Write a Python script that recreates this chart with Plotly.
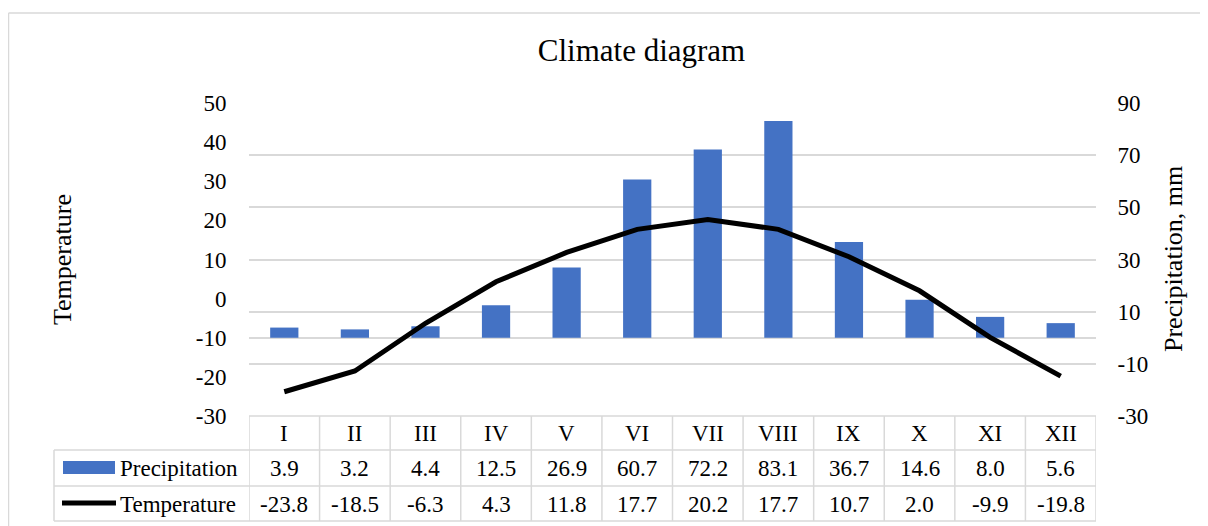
import plotly.graph_objects as go

categories = ["I", "II", "III", "IV", "V", "VI", "VII", "VIII", "IX", "X", "XI", "XII"]
precipitation = [3.9, 3.2, 4.4, 12.5, 26.9, 60.7, 72.2, 83.1, 36.7, 14.6, 8.0, 5.6]
temperature = [-23.8, -18.5, -6.3, 4.3, 11.8, 17.7, 20.2, 17.7, 10.7, 2.0, -9.9, -19.8]
series_names = ["Precipitation", "Temperature"]
temp_ticks = [-30, -20, -10, 0, 10, 20, 30, 40, 50]
precip_ticks = [-30, -10, 10, 30, 50, 70, 90]

# page offset (browser body margin)
OFF = 8
W, H = 1208 - OFF, 526 - OFF
# plot area in screenshot pixels
L, R, T, B = 249, 1096, 103, 416
PW, PH = R - L, B - T

FONT = "Liberation Serif, Times New Roman, serif"
BLUE = "#4472C4"
GRID = "#D9D9D9"


def ypap(py):
    return (B - py) / PH


def xpap(px):
    return (px - L) / PW


fig = go.Figure()
fig.add_trace(go.Bar(
    x=categories, y=precipitation, name=series_names[0],
    marker=dict(color=BLUE, line=dict(width=0)), yaxis="y", width=0.4,
))
fig.add_trace(go.Scatter(
    x=categories, y=temperature, name=series_names[1], mode="lines",
    line=dict(color="#000000", width=5), yaxis="y2",
))

shapes = []
# outer chart border (top & left visible)
shapes.append(dict(type="line", xref="paper", yref="paper",
                   x0=xpap(8.5), x1=xpap(1208), y0=ypap(13), y1=ypap(13),
                   line=dict(color=GRID, width=1.5)))
shapes.append(dict(type="line", xref="paper", yref="paper",
                   x0=xpap(8.5), x1=xpap(8.5), y0=ypap(13), y1=ypap(526),
                   line=dict(color=GRID, width=1.5)))

row_lines = [416, 450, 486, 521]
n = len(categories)
shapes.append(dict(type="line", xref="paper", yref="paper",
                   x0=0, x1=1, y0=ypap(416), y1=ypap(416),
                   line=dict(color=GRID, width=1.5)))
for ry in row_lines[1:]:
    shapes.append(dict(type="line", xref="paper", yref="paper",
                       x0=xpap(54), x1=1, y0=ypap(ry), y1=ypap(ry),
                       line=dict(color=GRID, width=1.5)))
for k in range(n + 1):
    shapes.append(dict(type="line", xref="x", yref="paper",
                       x0=k - 0.5, x1=k - 0.5, y0=ypap(416), y1=ypap(521),
                       line=dict(color=GRID, width=1.5)))
shapes.append(dict(type="line", xref="paper", yref="paper",
                   x0=xpap(54), x1=xpap(54), y0=ypap(450), y1=ypap(521),
                   line=dict(color=GRID, width=1.5)))
# legend keys
shapes.append(dict(type="rect", xref="paper", yref="paper",
                   x0=xpap(63), x1=xpap(115), y0=ypap(474), y1=ypap(461),
                   fillcolor=BLUE, line=dict(width=0)))
shapes.append(dict(type="line", xref="paper", yref="paper",
                   x0=xpap(62), x1=xpap(116), y0=ypap(503), y1=ypap(503),
                   line=dict(color="#000000", width=5)))

annotations = []
tfont = dict(family=FONT, size=23, color="#000000")
row_centers = [433, 468, 504]
for i, c in enumerate(categories):
    annotations.append(dict(x=i, y=ypap(row_centers[0]), xref="x", yref="paper",
                            text=c, showarrow=False, font=dict(tfont),
                            xanchor="center", yanchor="middle"))
    annotations.append(dict(x=i, y=ypap(row_centers[1]), xref="x", yref="paper",
                            text=f"{precipitation[i]:.1f}", showarrow=False, font=dict(tfont),
                            xanchor="center", yanchor="middle"))
    annotations.append(dict(x=i, y=ypap(row_centers[2]), xref="x", yref="paper",
                            text=f"{temperature[i]:.1f}", showarrow=False, font=dict(tfont),
                            xanchor="center", yanchor="middle"))
for j, nm in enumerate(series_names):
    annotations.append(dict(x=xpap(118), y=ypap(row_centers[j + 1]), xref="paper", yref="paper",
                            text=nm, showarrow=False, font=dict(tfont),
                            xanchor="left", yanchor="middle"))
annotations.append(dict(x=xpap(62), y=ypap(260), xref="paper", yref="paper",
                        text="Temperature", textangle=-90, showarrow=False,
                        font=dict(family=FONT, size=26, color="#000000"),
                        xanchor="center", yanchor="middle"))
annotations.append(dict(x=xpap(1173), y=ypap(259), xref="paper", yref="paper",
                        text="Precipitation, mm", textangle=-90, showarrow=False,
                        font=dict(family=FONT, size=26, color="#000000"),
                        xanchor="center", yanchor="middle"))

fig.update_layout(
    width=W, height=H,
    margin=dict(l=L - OFF, r=W - (R - OFF), t=T - OFF, b=H - (B - OFF), pad=0),
    paper_bgcolor="white", plot_bgcolor="white",
    showlegend=False,
    title=dict(text="Climate diagram", x=(641.5 - OFF) / W, y=1 - (50 - OFF) / H,
               xref="container", yref="container",
               xanchor="center", yanchor="middle",
               font=dict(family=FONT, size=31, color="#000000")),
    xaxis=dict(type="category", range=[-0.5, n - 0.5], showticklabels=False,
               showgrid=False, zeroline=False, showline=False, ticks=""),
    yaxis=dict(side="right", range=[-30, 90],
               tickvals=precip_ticks, ticktext=[str(v) for v in precip_ticks],
               showgrid=True, gridcolor=GRID, gridwidth=1.5,
               zeroline=True, zerolinecolor=GRID, zerolinewidth=1.5,
               showline=False, ticks="outside", ticklen=16,
               tickcolor="rgba(0,0,0,0)",
               tickfont=dict(family=FONT, size=23, color="#000000")),
    yaxis2=dict(side="left", overlaying="y", range=[-30, 50],
                tickvals=temp_ticks, ticktext=[str(v) for v in temp_ticks],
                showgrid=False, zeroline=False, showline=False,
                ticks="outside", ticklen=17, tickcolor="rgba(0,0,0,0)",
                tickfont=dict(family=FONT, size=23, color="#000000")),
    bargap=0.6,
    shapes=shapes,
    annotations=annotations,
)

fig.write_html("out.html", config={"displayModeBar": False},
               post_script="document.body.style.overflow='hidden';"
                           "document.documentElement.style.overflow='hidden';")
